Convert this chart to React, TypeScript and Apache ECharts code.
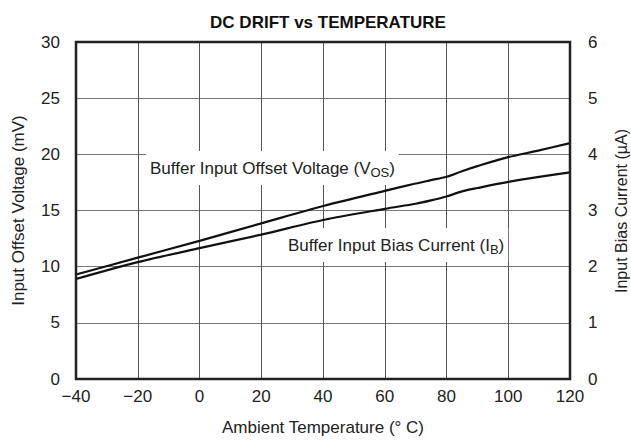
import React, { useEffect, useRef } from "react";
import * as echarts from "echarts";

const temperatures = [-40, -20, 0, 20, 40, 60, 70, 75, 80, 85, 90, 100, 110, 120];
const offsetVoltage = [9.3, 10.8, 12.3, 13.85, 15.4, 16.75, 17.4, 17.7, 18.0, 18.5, 18.95, 19.75, 20.35, 21.0];
const biasCurrent = [1.78, 2.08, 2.33, 2.57, 2.83, 3.03, 3.12, 3.18, 3.25, 3.34, 3.4, 3.51, 3.6, 3.68];

const FONT = "Liberation Sans, Arial, sans-serif";
const FS = 17;

export default function App() {
  const ref = useRef<HTMLDivElement>(null);
  useEffect(() => {
    if (!ref.current) return;
    const chart = echarts.init(ref.current, undefined, { renderer: "svg" });
    const minus = (v: number) => String(v).replace("-", "\u2212");
    chart.setOption({
      animation: false,
      backgroundColor: "#fff",
      textStyle: { fontFamily: FONT },
      title: {
        text: "DC DRIFT vs TEMPERATURE",
        left: 323,
        textAlign: "center",
        top: 9,
        textStyle: { fontSize: 17, fontWeight: "bold", color: "#111", fontFamily: FONT },
      },
      grid: { left: 76, right: 61, top: 42, bottom: 66, outerBoundsMode: "none", containLabel: false },
      xAxis: {
        type: "value",
        min: -40,
        max: 120,
        interval: 20,
        name: "Ambient Temperature (\u00b0 C)",
        nameLocation: "middle",
        nameGap: 40,
        nameTextStyle: { fontSize: FS, color: "#222", fontFamily: FONT },
        axisLine: { show: false },
        axisTick: { show: false },
        axisLabel: { formatter: minus, fontSize: FS, color: "#222", margin: 9, fontFamily: FONT },
        splitLine: { show: true, lineStyle: { color: "#555", width: 1 } },
      },
      yAxis: [
        {
          type: "value",
          min: 0,
          max: 30,
          interval: 5,
          position: "left",
          name: "Input Offset Voltage (mV)",
          nameLocation: "middle",
          nameGap: 49,
          nameTextStyle: { fontSize: FS, color: "#222", fontFamily: FONT },
          axisLine: { show: false },
          axisTick: { show: false },
          axisLabel: { fontSize: FS, color: "#222", margin: 16, fontFamily: FONT },
          splitLine: { show: true, lineStyle: { color: "#777", width: 1 } },
        },
        {
          type: "value",
          min: 0,
          max: 6,
          interval: 1,
          position: "right",
          axisLine: { show: false },
          axisTick: { show: false },
          axisLabel: { fontSize: FS, color: "#222", margin: 18, fontFamily: FONT },
          splitLine: { show: false },
        },
      ],
      series: [
        {
          type: "line",
          name: "VOS",
          yAxisIndex: 0,
          data: temperatures.map((t, i) => [t, offsetVoltage[i]]),
          showSymbol: false,
          smooth: 0.3,
          lineStyle: { color: "#111", width: 2.2 },
          z: 3,
        },
        {
          type: "line",
          name: "IB",
          yAxisIndex: 1,
          data: temperatures.map((t, i) => [t, biasCurrent[i]]),
          showSymbol: false,
          smooth: 0.3,
          lineStyle: { color: "#111", width: 2.2 },
          z: 3,
        },
      ],
      graphic: [
        {
          type: "rect",
          shape: { x: 76, y: 42, width: 494, height: 337 },
          style: { fill: "none", stroke: "#222", lineWidth: 2.5 },
          z: 10,
        },
        {
          type: "text",
          x: 621,
          y: 211,
          rotation: Math.PI / 2,
          z: 10,
          style: {
            text: "Input Bias Current (\u00b5A)",
            fontSize: 16,
            fontFamily: FONT,
            fill: "#222",
            align: "center",
            verticalAlign: "middle",
          },
        },
        {
          type: "text",
          x: 146,
          y: 168,
          z: 1,
          style: {
            text: "Buffer Input Offset Voltage (V{sub|OS})",
            fontSize: FS,
            fontFamily: FONT,
            fill: "#222",
            verticalAlign: "middle",
            backgroundColor: "#fff",
            padding: [6, 4, 6, 4],
            rich: { sub: { fontSize: 13, fontFamily: FONT, fill: "#222", padding: [9, 0, 0, 0] } },
          },
        },
        {
          type: "text",
          x: 284,
          y: 245,
          z: 1,
          style: {
            text: "Buffer Input Bias Current (I{sub|B})",
            fontSize: FS,
            fontFamily: FONT,
            fill: "#222",
            verticalAlign: "middle",
            backgroundColor: "#fff",
            padding: [6, 4, 6, 4],
            rich: { sub: { fontSize: 13, fontFamily: FONT, fill: "#222", padding: [9, 0, 0, 0] } },
          },
        },
      ],
    });
    return () => chart.dispose();
  }, []);
  return <div ref={ref} style={{ width: 631, height: 445, position: "absolute", left: 0, top: 0 }} />;
}
